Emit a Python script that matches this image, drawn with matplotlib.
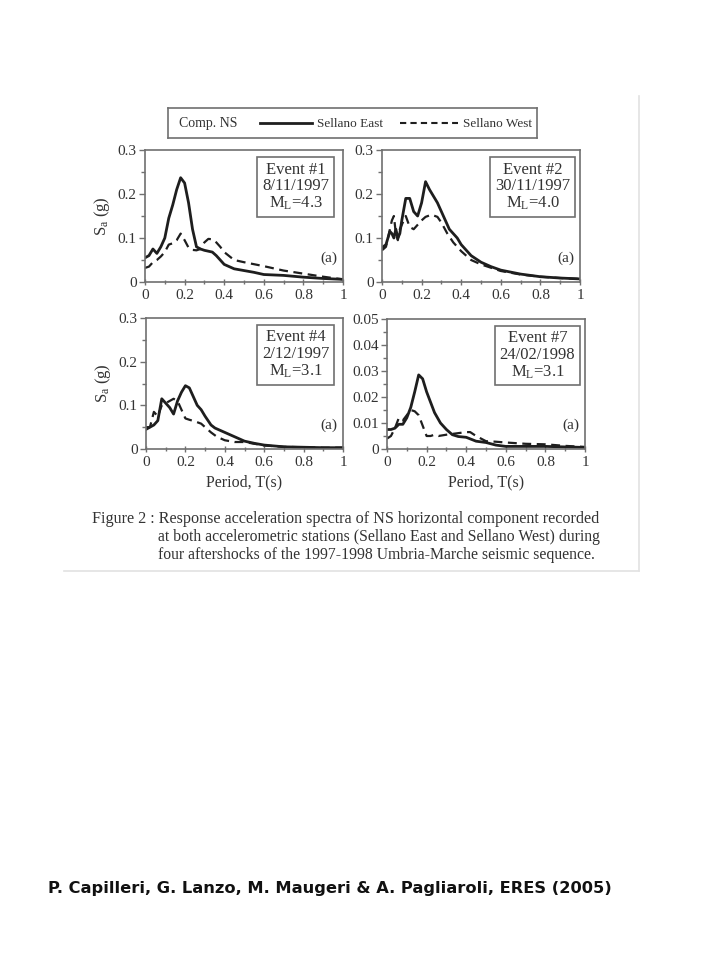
import numpy as np
import matplotlib
matplotlib.use('Agg')
import matplotlib.pyplot as plt
from matplotlib.lines import Line2D
from matplotlib.ticker import MultipleLocator

# ---------- data ----------
t1_east = [0, 0.02, 0.04, 0.06, 0.08, 0.10, 0.12, 0.14, 0.16, 0.18, 0.20, 0.22, 0.24, 0.26, 0.28, 0.30,
           0.32, 0.34, 0.36, 0.38, 0.40, 0.45, 0.50, 0.55, 0.60, 0.70, 0.80, 0.90, 1.0]
sa1_east = [0.055, 0.06, 0.075, 0.065, 0.08, 0.10, 0.145, 0.175, 0.21, 0.237, 0.225, 0.18, 0.12, 0.08, 0.075,
            0.072, 0.07, 0.068, 0.06, 0.05, 0.04, 0.03, 0.026, 0.022, 0.017, 0.015, 0.011, 0.008, 0.006]
t1_west = [0, 0.02, 0.04, 0.06, 0.08, 0.10, 0.12, 0.14, 0.16, 0.18, 0.20, 0.22, 0.24, 0.26, 0.28, 0.30,
           0.32, 0.34, 0.36, 0.38, 0.40, 0.45, 0.50, 0.60, 0.70, 0.80, 0.90, 1.0]
sa1_west = [0.032, 0.035, 0.045, 0.05, 0.058, 0.068, 0.085, 0.088, 0.095, 0.11, 0.095, 0.078, 0.073, 0.072,
            0.075, 0.09, 0.098, 0.097, 0.09, 0.08, 0.068, 0.05, 0.045, 0.036, 0.026, 0.019, 0.012, 0.006]

t2_east = [0, 0.02, 0.04, 0.05, 0.06, 0.07, 0.08, 0.09, 0.10, 0.12, 0.14, 0.16, 0.18, 0.20, 0.22, 0.24,
           0.26, 0.28, 0.30, 0.32, 0.34, 0.36, 0.38, 0.40, 0.45, 0.50, 0.55, 0.60, 0.70, 0.80, 0.90, 1.0]
sa2_east = [0.078, 0.085, 0.115, 0.11, 0.10, 0.12, 0.10, 0.11, 0.14, 0.19, 0.19, 0.16, 0.15, 0.18, 0.228,
            0.21, 0.195, 0.18, 0.16, 0.14, 0.12, 0.11, 0.10, 0.085, 0.06, 0.045, 0.035, 0.027, 0.018,
            0.012, 0.009, 0.007]
t2_west = [0, 0.02, 0.04, 0.05, 0.06, 0.07, 0.08, 0.09, 0.10, 0.12, 0.14, 0.16, 0.18, 0.20, 0.22, 0.25,
           0.28, 0.30, 0.33, 0.36, 0.40, 0.45, 0.50, 0.60, 0.70, 0.80, 0.90, 1.0]
sa2_west = [0.072, 0.08, 0.12, 0.14, 0.15, 0.11, 0.095, 0.12, 0.13, 0.15, 0.125, 0.12, 0.13, 0.14, 0.148,
            0.153, 0.148, 0.135, 0.11, 0.09, 0.07, 0.05, 0.04, 0.025, 0.017, 0.012, 0.009, 0.007]

t4_east = [0, 0.02, 0.04, 0.06, 0.08, 0.10, 0.12, 0.14, 0.16, 0.18, 0.20, 0.22, 0.24, 0.26, 0.28, 0.30,
           0.33, 0.35, 0.40, 0.45, 0.50, 0.55, 0.60, 0.70, 0.80, 0.90, 1.0]
sa4_east = [0.045, 0.05, 0.055, 0.065, 0.115, 0.105, 0.095, 0.08, 0.11, 0.13, 0.145, 0.14, 0.12, 0.10,
            0.09, 0.075, 0.055, 0.048, 0.038, 0.028, 0.018, 0.013, 0.009, 0.005, 0.004, 0.003, 0.003]
t4_west = [0, 0.02, 0.04, 0.06, 0.08, 0.10, 0.12, 0.14, 0.16, 0.18, 0.20, 0.22, 0.25, 0.28, 0.30, 0.33,
           0.36, 0.40, 0.45, 0.50, 0.55, 0.60, 0.70, 0.80, 0.90, 1.0]
sa4_west = [0.05, 0.05, 0.085, 0.075, 0.10, 0.105, 0.11, 0.115, 0.11, 0.09, 0.07, 0.067, 0.063, 0.058,
            0.05, 0.038, 0.028, 0.02, 0.016, 0.016, 0.012, 0.008, 0.005, 0.004, 0.003, 0.003]

t7_east = [0, 0.02, 0.04, 0.06, 0.08, 0.10, 0.12, 0.14, 0.16, 0.18, 0.20, 0.22, 0.24, 0.27, 0.30, 0.33,
           0.36, 0.40, 0.45, 0.50, 0.55, 0.60, 0.70, 0.80, 0.90, 1.0]
sa7_east = [0.0075, 0.0075, 0.008, 0.0095, 0.0095, 0.012, 0.016, 0.022, 0.0285, 0.027, 0.022, 0.018,
            0.014, 0.01, 0.0075, 0.0055, 0.0048, 0.0045, 0.003, 0.0025, 0.0015, 0.001, 0.001, 0.001,
            0.0008, 0.0006]
t7_west = [0, 0.02, 0.04, 0.06, 0.08, 0.10, 0.12, 0.14, 0.16, 0.18, 0.20, 0.22, 0.24, 0.26, 0.30, 0.35,
           0.40, 0.42, 0.45, 0.50, 0.55, 0.60, 0.70, 0.80, 0.90, 1.0]
sa7_west = [0.004, 0.005, 0.008, 0.012, 0.011, 0.013, 0.015, 0.0145, 0.013, 0.009, 0.005, 0.005, 0.0055,
            0.005, 0.0055, 0.006, 0.0065, 0.0065, 0.005, 0.003, 0.0028, 0.0025, 0.002, 0.0018, 0.0012,
            0.0008]

event_labels = ['Event #1\n8/11/1997\nM$_\\mathregular{L}$=4.3',
                'Event #2\n30/11/1997\nM$_\\mathregular{L}$=4.0',
                'Event #4\n2/12/1997\nM$_\\mathregular{L}$=3.1',
                'Event #7\n24/02/1998\nM$_\\mathregular{L}$=3.1']
y_max = [0.3, 0.3, 0.3, 0.05]
y_major = [0.1, 0.1, 0.1, 0.01]
y_minor = [0.05, 0.05, 0.05, 0.005]

caption = ['Figure 2 : Response acceleration spectra of NS horizontal component recorded',
           'at both accelerometric stations (Sellano East and Sellano West) during',
           'four aftershocks of the 1997-1998 Umbria-Marche seismic sequence.']
footer = 'P. Capilleri, G. Lanzo, M. Maugeri & A. Pagliaroli, ERES (2005)'

# ---------- style ----------
plt.rcParams['font.family'] = ['Liberation Serif', 'DejaVu Serif']
plt.rcParams['mathtext.fontset'] = 'custom'
plt.rcParams['mathtext.rm'] = 'Liberation Serif'
plt.rcParams['mathtext.it'] = 'Liberation Serif'
LINE = '#1e1e1e'
FRAME = '#707070'
TXT = '#333333'

W, H = 720, 960
fig = plt.figure(figsize=(7.2, 9.6), dpi=100)


def px_axes(x0, y_top, x1, y_bot):
    return fig.add_axes([x0 / W, 1 - y_bot / H, (x1 - x0) / W, (y_bot - y_top) / H])


# panel boxes in pixels: (left, top, right, bottom)
boxes = [(145, 150, 343, 282), (382, 150, 580, 282), (146, 318, 343, 449), (387, 319, 585, 449)]
series = [(t1_east, sa1_east, t1_west, sa1_west),
          (t2_east, sa2_east, t2_west, sa2_west),
          (t4_east, sa4_east, t4_west, sa4_west),
          (t7_east, sa7_east, t7_west, sa7_west)]

for i, (box, (te, se, tw, sw)) in enumerate(zip(boxes, series)):
    ax = px_axes(*box)
    ax.plot(te, se, color=LINE, lw=2.0, solid_joinstyle='round')
    ax.plot(tw, sw, color=LINE, lw=1.6, ls=(0, (4, 2.5)))
    ax.set_xlim(0, 1)
    ax.set_ylim(0, y_max[i])
    ax.xaxis.set_major_locator(MultipleLocator(0.2))
    ax.xaxis.set_minor_locator(MultipleLocator(0.1))
    ax.yaxis.set_major_locator(MultipleLocator(y_major[i]))
    ax.yaxis.set_minor_locator(MultipleLocator(y_minor[i]))
    ax.xaxis.set_major_formatter(plt.FuncFormatter(lambda v, p: f'{v:g}'))
    ax.yaxis.set_major_formatter(plt.FuncFormatter(lambda v, p: f'{v:g}'))
    for s in ax.spines.values():
        s.set_color(FRAME)
        s.set_linewidth(1.2)
    ax.tick_params(which='both', colors=FRAME, labelcolor=TXT, labelsize=11, width=1)
    ax.tick_params(which='major', length=4, direction='out')
    ax.tick_params(which='minor', length=3, direction='out')
    ax.tick_params(axis='x', which='both', direction='inout')
    ax.tick_params(axis='x', pad=3)
    ax.tick_params(axis='y', pad=2)
    ax.text(0.76, 0.72, event_labels[i], transform=ax.transAxes, ha='center', va='center',
            multialignment='center', fontsize=12, color=TXT, linespacing=1.05,
            bbox=dict(boxstyle='square,pad=0.28', fc='white', ec=FRAME, lw=1.2))
    ax.text(0.97, 0.18, '(a)', transform=ax.transAxes, ha='right', va='center',
            fontsize=11, color=TXT)
    if i in (0, 2):
        ax.set_ylabel('S$_\\mathregular{a}$ (g)', fontsize=12, color=TXT, labelpad=4)
    if i in (2, 3):
        ax.set_xlabel('Period, T(s)', fontsize=11.5, color=TXT, labelpad=4)

# ---------- legend box ----------
lax = px_axes(168, 108, 537, 138)
lax.set_xlim(0, 1)
lax.set_ylim(0, 1)
lax.set_xticks([])
lax.set_yticks([])
for s in lax.spines.values():
    s.set_color(FRAME)
    s.set_linewidth(1.2)
lax.text(0.03, 0.47, 'Comp. NS', fontsize=10, color=TXT, va='center')
lax.add_line(Line2D([0.25, 0.39], [0.5, 0.5], color=LINE, lw=2))
lax.text(0.405, 0.47, 'Sellano East', fontsize=9.5, color=TXT, va='center')
lax.add_line(Line2D([0.63, 0.785], [0.5, 0.5], color=LINE, lw=1.5, ls=(0, (3, 2))))
lax.text(0.80, 0.47, 'Sellano West', fontsize=9.5, color=TXT, va='center')

# ---------- caption ----------
fig.text(92 / W, 1 - 519 / H, caption[0], fontsize=11.6, color=TXT, va='center')
fig.text(158 / W, 1 - 537 / H, caption[1], fontsize=11.3, color=TXT, va='center')
fig.text(158 / W, 1 - 555 / H, caption[2], fontsize=11.3, color=TXT, va='center')

# faint border of the scanned figure
fig.add_artist(Line2D([639 / W, 639 / W], [1 - 96 / H, 1 - 571 / H], color='#e2e2e2', lw=1.2))
fig.add_artist(Line2D([64 / W, 639 / W], [1 - 571 / H, 1 - 571 / H], color='#e2e2e2', lw=1.2))

# ---------- footer ----------
fig.text(48 / W, 1 - 888 / H, footer, fontsize=11.7, fontweight='bold', color='#111111',
         family=['DejaVu Sans'], va='center')

fig.savefig('out.png', dpi=100)
